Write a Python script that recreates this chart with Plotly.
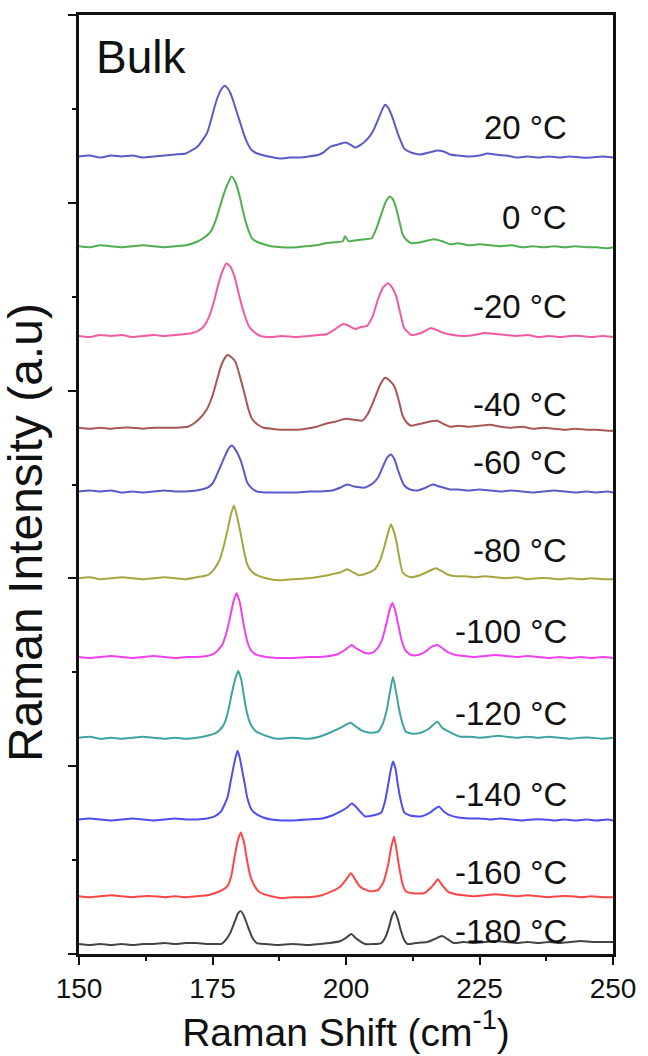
import plotly.graph_objects as go

# Raman shift (cm^-1), intensity above own baseline (a.u.)
S_P20 = [(150,0),(152,1),(154,-1),(156,1),(158,0),(160,1),(162,-1),(164,0),(166,1),(168,2),(170,3),(171,6),(172,9),(173.2,17),(174,24),(174.7,36),(175.4,50),(176,60),(176.6,67),(177.3,71),(177.9,68),(178.4,63),(179,54),(179.7,42),(180.3,32),(180.9,22),(181.5,14),(182.1,8),(183,4),(184,2),(185.5,0),(187.6,-2),(189.5,-1),(191.3,-1),(193,0),(195,2),(196,5),(197.1,10),(198.5,12),(199.9,14),(200.8,12),(201.7,9),(202.8,12),(203.9,17),(205,25),(206,37),(206.7,46),(207.3,52),(207.9,49),(208.5,42),(209.1,33),(209.7,23),(210.3,15),(210.9,8),(211.8,5),(212.8,3),(214,2),(215.5,4),(217.1,6),(218.3,5),(219.5,2),(221,1),(223,0),(225,1),(226.5,3),(228,2),(230,1),(232,-1),(234,0),(236,-1),(238,0),(240,-1),(242,0),(244,-1),(246,-1),(248,0),(250,-1)]
S_0 = [(150,0),(152,-1),(154,1),(156,0),(158,-1),(160,0),(162,1),(164,0),(166,-1),(168,0),(170,1),(172.3,5),(173.5,9),(174.7,15),(175.6,26),(176.3,38),(177.1,52),(177.8,62),(178.6,70),(179.3,64),(180,52),(180.6,38),(181.2,25),(181.8,15),(182.4,8),(183.5,4),(184.6,2),(186,0),(188,-1),(190.7,-1),(192.5,0),(194.5,1),(196.2,3),(198,4),(199.4,5),(199.8,10),(200.5,5),(202,6),(203.5,7),(204.8,8),(205.7,18),(206.6,32),(207.4,44),(208.2,50),(208.8,47),(209.4,38),(210,25),(210.6,12),(211.4,6),(212.2,3),(214,4),(215.5,6),(216.5,7),(218,5),(219.5,2),(221,3),(223,1),(225,2),(227,1),(229,0),(231,1),(233,-1),(235,0),(237,-1),(239,0),(241,-1),(243,0),(245,-1),(247,-1),(249,-2),(250,-1)]
S_M20 = [(150,0),(152,-1),(154,1),(156,0),(158,1),(160,-1),(162,0),(164,1),(166,0),(168,1),(170,2),(171.2,3),(172.3,5),(173.4,10),(174.4,20),(175.2,33),(176,50),(176.8,64),(177.6,73),(178.4,69),(179.1,60),(179.8,45),(180.5,30),(181.2,18),(181.8,10),(182.8,4),(184,0),(186,-1),(188,0),(190.7,-1),(193,0),(195,1),(196.5,2),(198,7),(199.5,12),(200.6,10),(201.7,7),(202.8,9),(203.9,10),(205,20),(206,37),(207,49),(207.9,53),(208.7,48),(209.4,40),(210.2,22),(210.9,8),(212.2,1),(213.5,2),(214.8,5),(215.9,8),(217,6),(218.3,3),(220,1),(222,0),(224,1),(226,3),(228,2),(230,1),(232,0),(234,1),(236,-1),(238,0),(240,-1),(242,0),(244,0),(246,-1),(248,0),(250,-1)]
S_M40 = [(150,1),(152,0),(154,1),(156,0),(158,1),(160,1),(162,0),(164,1),(166,1),(168,1),(170.4,2),(171.7,6),(172.9,12),(174,20),(175,33),(175.8,48),(176.6,63),(177.2,70),(177.8,74),(178.5,72),(179.3,67),(180.1,53),(180.9,37),(181.7,20),(182.4,10),(183.5,4),(184.6,1),(186,0),(188,-1),(190.7,-1),(192.5,0),(194.5,2),(196.2,5),(198,7),(199.9,10),(201.5,9),(203,8),(204,14),(204.8,23),(205.7,35),(206.5,45),(207.3,51),(208.2,48),(209.1,42),(209.9,28),(210.6,13),(211.4,6),(212.2,3),(214,5),(215.5,7),(217.1,8),(218.5,4),(219.5,2),(221,3),(223,2),(225,3),(227,4),(229,2),(231,1),(233,2),(235,0),(237,1),(239,0),(241,-1),(243,0),(245,-1),(247,-1),(249,-2),(250,-2)]
S_M60 = [(150,0),(152,1),(154,0),(156,1),(158,-1),(160,0),(162,-1),(164,0),(166,1),(168,0),(170,0),(172,1),(174.1,4),(175,8),(175.6,14),(176.4,24),(177.2,34),(177.9,42),(178.6,46),(179.4,41),(180.3,31),(180.9,20),(181.5,9),(182.4,3),(183.3,0),(185,-1),(187,-1),(190.7,-1),(193,0),(195,0),(197.4,1),(199,4),(200.2,7),(201.5,5),(203.6,4),(205,8),(206,14),(207,26),(207.7,34),(208.4,37),(209.1,32),(209.7,22),(210.3,13),(210.9,6),(212,2),(213.4,1),(215,4),(216.2,7),(217.5,5),(219.5,2),(221,2),(223,1),(225,2),(227,1),(229,0),(231,1),(233,0),(235,-1),(237,0),(239,1),(241,0),(243,-1),(245,0),(247,-1),(249,0),(250,-1)]
S_M80 = [(150,0),(152,1),(154,-1),(156,0),(158,1),(160,0),(162,-1),(164,0),(166,1),(168,0),(170,-1),(172,1),(174.1,3),(175.3,9),(176.3,18),(177.1,32),(177.8,48),(178.4,63),(179,73),(179.6,62),(180.3,44),(180.9,27),(181.5,14),(182.3,7),(183.3,3),(185,0),(187.6,-2),(190,-1),(193,0),(195.5,2),(197.4,4),(199,6),(200.2,9),(201.3,6),(202.4,3),(204,5),(205.4,9),(206.4,18),(207.3,34),(207.9,46),(208.4,54),(208.9,48),(209.4,38),(210,20),(210.6,6),(211.5,2),(212.2,1),(213.8,3),(215.5,7),(216.8,10),(218,7),(218.9,4),(220.5,2),(222,2),(224,1),(226,2),(228,1),(230,0),(232,1),(234,-1),(236,0),(238,0),(240,-1),(242,0),(244,-1),(246,0),(248,-1),(250,-1)]
S_M100 = [(150,0),(152,-1),(154,0),(156,1),(158,0),(160,-1),(162,0),(164,1),(166,0),(168,-1),(170,0),(172,0),(174,1),(175.5,4),(176.8,12),(177.6,24),(178.3,40),(178.9,55),(179.5,64),(180.1,55),(180.6,40),(181.1,25),(181.6,14),(182.3,6),(183.3,2),(185,0),(187,-1),(190,-1),(193,0),(195,0),(197,1),(198.5,3),(199.8,7),(200.5,10),(201.1,12),(201.8,9),(202.5,7),(203.6,4),(204.8,4),(205.8,8),(206.8,18),(207.6,34),(208.2,48),(208.7,54),(209.2,47),(209.8,32),(210.4,17),(211.2,6),(212.2,2),(213.5,2),(214.8,5),(216,10),(217.1,12),(218,9),(219,5),(220.5,2),(222,1),(224,0),(226,1),(228,2),(230,1),(232,0),(234,1),(236,0),(238,-1),(240,0),(242,-1),(244,0),(246,-1),(248,0),(250,-1)]
S_M120 = [(150,0),(152,1),(154,-1),(156,0),(158,-1),(160,0),(162,1),(164,0),(166,-1),(168,0),(170,-1),(172,0),(174,2),(175.4,4),(176.4,8),(177.2,14),(177.9,26),(178.6,44),(179.2,58),(179.8,67),(180.4,58),(180.9,41),(181.5,24),(182.1,14),(183,7),(184,4),(185.5,1),(187,-1),(190,0),(193,-1),(195,1),(197.4,6),(199,10),(200.8,15),(201.9,11),(203,7),(204.5,5),(206,6),(206.8,13),(207.6,27),(208.2,45),(208.8,61),(209.4,45),(210,27),(210.6,14),(211.2,6),(212.5,4),(214,5),(215.5,9),(217.1,16),(218,10),(218.9,7),(220,4),(221.4,1),(223,1),(225,0),(227,1),(228.5,2),(230,1),(232,0),(234,1),(236,0),(238,1),(240,0),(242,-1),(244,0),(246,0),(248,-1),(250,0)]
S_M140 = [(150,0),(152,1),(154,0),(156,-1),(158,0),(160,1),(162,0),(164,-1),(166,0),(168,1),(170,0),(172,0),(174,1),(175.4,3),(176.6,8),(177.8,22),(178.4,38),(178.9,52),(179.3,62),(179.7,69),(180.1,62),(180.6,48),(181.1,34),(181.5,22),(182.3,10),(183.3,5),(184.5,2),(186,0),(188,-1),(190,-1),(193,0),(195.5,1),(197.4,4),(199,8),(200.2,12),(201.1,16),(202,12),(202.8,7),(203.6,3),(205,4),(206.6,7),(207.3,18),(207.9,35),(208.4,50),(208.8,58),(209.3,50),(209.7,35),(210.3,18),(210.9,7),(212,4),(214,3),(215.5,6),(216.5,10),(217.4,13),(218.3,8),(219.5,4),(221,2),(223,1),(225,1),(227,0),(229,1),(231,0),(233,-1),(235,0),(237,0),(239,-1),(241,0),(243,-1),(245,0),(247,-1),(249,0),(250,-1)]
S_M160 = [(150,0),(152,-1),(154,0),(156,1),(158,0),(160,-1),(162,0),(164,0),(166,-1),(168,0),(170,-1),(172,0),(174,1),(175.4,3),(176.8,6),(177.8,10),(178.5,20),(179.1,38),(179.7,55),(180.3,64),(180.9,54),(181.5,35),(182.1,20),(182.7,12),(183.6,5),(184.6,2),(186,0),(188,-2),(190,-1),(193,-1),(195.5,1),(197.4,5),(199,10),(200.2,18),(200.9,23),(201.7,17),(202.4,11),(203,8),(204.5,5),(206,6),(207,14),(207.9,32),(208.5,50),(209,60),(209.5,45),(210,28),(210.6,12),(211.2,5),(212.5,3),(214.6,3),(215.8,8),(216.6,13),(217.2,17),(218,11),(219.2,4),(220.5,2),(222,1),(224,0),(226,1),(228,2),(230,1),(232,0),(234,1),(236,0),(238,-1),(240,0),(242,0),(244,-1),(246,0),(248,-1),(250,-1)]
S_M180 = [(150,1),(152,0),(154,1),(156,0),(158,1),(160,0),(162,1),(164,1),(166,2),(168,1),(170,2),(172,2),(174,1),(176,1),(176.6,1),(177.6,6),(178.4,13),(179.2,24),(179.8,32),(180.3,34),(180.9,29),(181.8,16),(182.5,7),(183.3,2),(185,1),(187,0),(190,1),(193,0),(195,1),(197,2),(199,4),(200.2,8),(201,11),(201.8,7),(202.6,4),(203.6,1),(205,1),(206.6,2),(207.4,8),(208.1,19),(208.6,29),(209.1,34),(209.7,26),(210.3,14),(210.9,5),(211.5,1),(213,2),(215.2,3),(216.6,6),(218,9),(219,6),(220.2,2),(222,3),(224,2),(226,3),(228,4),(230,3),(232,2),(234,3),(236,2),(238,3),(240,2),(242,3),(244,4),(246,3),(248,3),(250,3)]

SPECTRA = [S_P20, S_0, S_M20, S_M40, S_M60, S_M80, S_M100, S_M120, S_M140, S_M160, S_M180]
LABELS = ["20 °C", "0 °C", "-20 °C", "-40 °C", "-60 °C", "-80 °C",
          "-100 °C", "-120 °C", "-140 °C", "-160 °C", "-180 °C"]
OFFSETS = [800, 710, 620, 527, 464, 377, 298, 217, 135, 58, 9]
LABEL_Y = [829, 739, 650, 551, 493, 405, 324, 241, 160, 82, 23]
COLORS = ["#5a5ac8", "#4fae4f", "#f25aa2", "#a85656", "#5a5ac8", "#a6a640",
          "#f040f0", "#3fa3a0", "#4d4df2", "#ff4545", "#444444"]
LABEL_X = 241.7

fig = go.Figure()
for spec, off, col, name in zip(SPECTRA, OFFSETS, COLORS, LABELS):
    fig.add_trace(go.Scatter(
        x=[p[0] for p in spec], y=[off + p[1] for p in spec],
        mode="lines", name=name,
        line=dict(color=col, width=2, shape="spline", smoothing=0.5),
        showlegend=False))

FONT = "Liberation Sans, Arial, sans-serif"
for lab, ly in zip(LABELS, LABEL_Y):
    fig.add_annotation(x=LABEL_X, y=ly, text=lab, showarrow=False,
                       xanchor="right", yanchor="middle",
                       font=dict(family=FONT, size=33, color="#111111"))

fig.add_annotation(x=152.9, y=900, text="Bulk", showarrow=False,
                   xanchor="left", yanchor="middle",
                   font=dict(family=FONT, size=46, color="#111111"))

fig.add_annotation(xref="paper", yref="paper", x=-0.1, y=0.449,
                   text="Raman Intensity (a.u)", textangle=-90, showarrow=False,
                   xanchor="center", yanchor="middle",
                   font=dict(family=FONT, size=48, color="#111111"))

fig.update_layout(
    width=648, height=1056,
    margin=dict(l=79, r=26, t=13, b=101),
    paper_bgcolor="white", plot_bgcolor="white",
    font=dict(family=FONT, color="#111111"),
)
fig.update_xaxes(
    range=[150, 250], tick0=150, dtick=25,
    ticks="outside", ticklen=8, tickwidth=2, tickcolor="#111111",
    minor=dict(dtick=12.5, ticks="outside", ticklen=4, tickwidth=2, tickcolor="#111111"),
    showline=True, linewidth=2.5, linecolor="#111111", mirror=True,
    showgrid=False, zeroline=False,
    tickfont=dict(family=FONT, size=28, color="#111111"),
    title=dict(text="Raman Shift (cm<sup>-1</sup>)", standoff=12,
               font=dict(family=FONT, size=39, color="#111111")),
)
fig.update_yaxes(
    range=[0, 942], tick0=0, dtick=188.4,
    ticks="outside", ticklen=8, tickwidth=2, tickcolor="#111111",
    minor=dict(tick0=0, dtick=94.2, ticks="outside", ticklen=4, tickwidth=2, tickcolor="#111111"),
    showticklabels=False,
    showline=True, linewidth=2.5, linecolor="#111111", mirror=True,
    showgrid=False, zeroline=False,
)

fig.write_html("out.html")
